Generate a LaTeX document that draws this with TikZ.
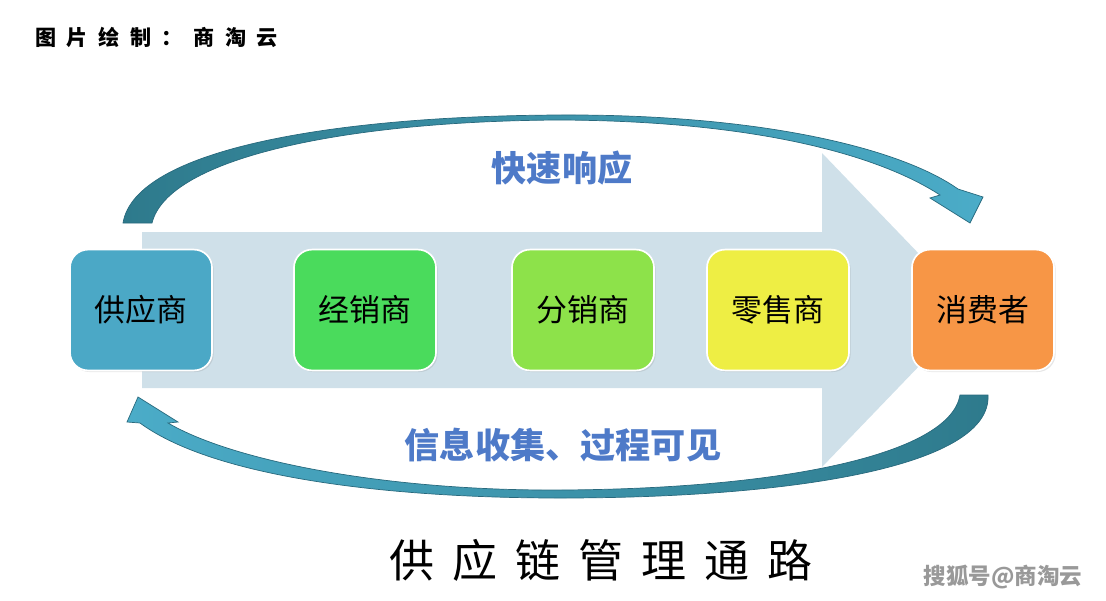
\documentclass[tikz,border=0pt]{standalone}
\usepackage{fontspec}
\setmainfont{Noto Sans CJK SC}
\usepackage{xcolor}
\usepackage{tikz}
\usetikzlibrary{shadows}
\definecolor{flowbg}{RGB}{207,224,233}
\definecolor{supplierc}{RGB}{75,168,198}
\definecolor{dealerc}{RGB}{74,219,92}
\definecolor{distribc}{RGB}{141,226,74}
\definecolor{retailc}{RGB}{238,238,68}
\definecolor{consumerc}{RGB}{247,150,70}
\definecolor{banddark}{RGB}{46,122,140}
\definecolor{bandlight}{RGB}{75,172,200}
\definecolor{bandedge}{RGB}{40,105,125}
\definecolor{slogan}{RGB}{78,122,200}
\newcommand{\gap}[1]{\hspace{#1em}}
\tikzstyle{stage} = [rectangle, draw=white, line width=1.2pt, rounded corners=0.45cm, minimum width=3.55cm, minimum height=3.02cm, text centered, font=\fontsize{22}{26}\selectfont, drop shadow={opacity=0.2, shadow xshift=0.04cm, shadow yshift=-0.04cm}]
\tikzstyle{band} = [draw=bandedge, line width=0.5pt]
\tikzstyle{motto} = [text=slogan, font=\bfseries\fontsize{25}{30}\selectfont]

\begin{document}
\begin{tikzpicture}[x=0.025cm, y=-0.025cm]
\useasboundingbox (0,0) rectangle (1106,600);
\node [anchor=west, inner sep=0, font=\bfseries\fontsize{15}{17}\selectfont] (credit) at (35,37) {图\gap{0.5}片\gap{0.5}绘\gap{0.5}制\gap{0.5}：\gap{0.5}商\gap{0.5}淘\gap{0.5}云};
% wide flow arrow behind the boxes
\fill [flowbg] (142,232) -- (822,232) -- (822,153) -- (973,310) -- (822,467) -- (822,388) -- (142,388) -- cycle;
\node [stage, fill=supplierc] (supplier) at (141,310) {供应商};
\node [stage, fill=dealerc] (dealer) at (365,310) {经销商};
\node [stage, fill=distribc] (distrib) at (583,310) {分销商};
\node [stage, fill=retailc] (retail) at (778,310) {零售商};
\node [stage, fill=consumerc] (consumer) at (983,310) {消费者};
% upper curved arrow
\shadedraw [band, left color=banddark, right color=bandlight]
  (123,223) .. controls (135,150) and (330,116) .. (560,115)
  .. controls (760,114) and (900,148) .. (958,189)
  -- (983,197) -- (970,223) -- (930,198) -- (940,195)
  .. controls (880,156) and (760,121) .. (560,120)
  .. controls (345,121) and (168,158) .. (152,223) -- cycle;
% lower curved arrow
\shadedraw [band, left color=bandlight, right color=banddark]
  (960,395) .. controls (950,455) and (780,489) .. (560,490)
  .. controls (390,491) and (235,462) .. (168,423)
  -- (178,422) -- (138,397) -- (127,422) -- (140,423)
  .. controls (215,478) and (390,498) .. (560,498)
  .. controls (800,498) and (992,465) .. (988,395) -- cycle;
\node [motto] (fast) at (562,168) {快速响应};
\node [motto] (info) at (563,445) {信息收集、过程可见};
\node [font=\fontsize{32}{36}\selectfont] (title) at (601,560) {供\gap{0.4}应\gap{0.4}链\gap{0.4}管\gap{0.4}理\gap{0.4}通\gap{0.4}路};
\node [text=black!40, font=\bfseries\fontsize{16}{18}\selectfont] (mark) at (1003,577) {搜狐号@商淘云};
\end{tikzpicture}
\end{document}
